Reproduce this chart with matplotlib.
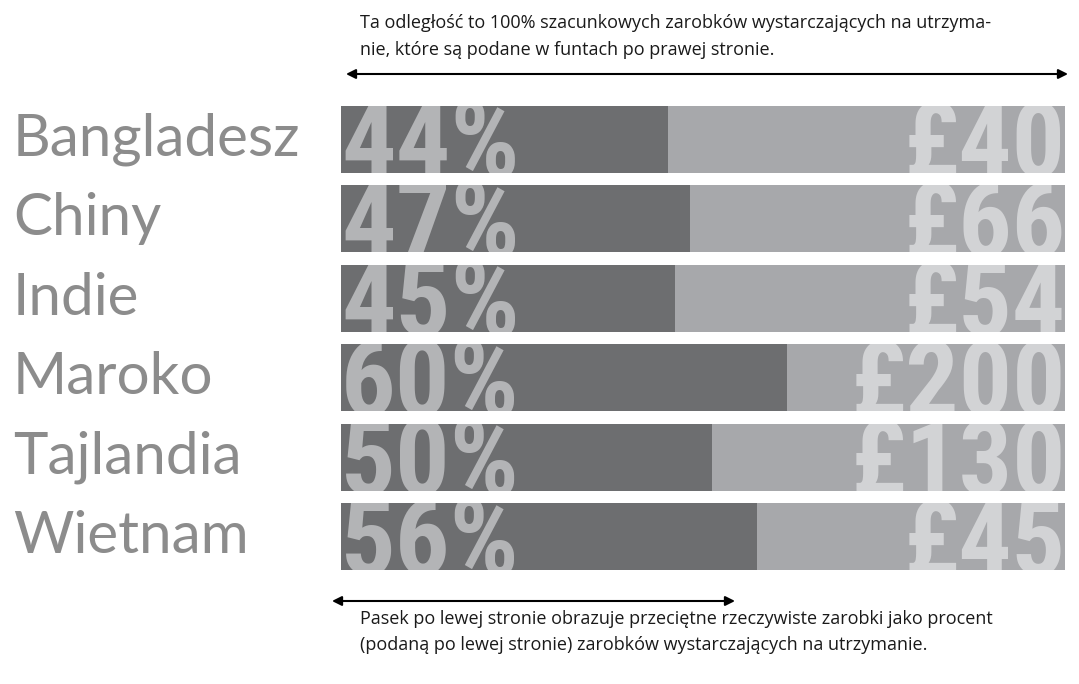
import matplotlib
matplotlib.use("Agg")
import matplotlib.pyplot as plt
from matplotlib import font_manager
from matplotlib.patches import Rectangle, FancyArrowPatch
from matplotlib.transforms import blended_transform_factory

countries = ["Bangladesz", "Chiny", "Indie", "Maroko", "Tajlandia", "Wietnam"]
pct_of_living_wage = [44, 47, 45, 60, 50, 56]
living_wage_gbp = [40, 66, 54, 200, 130, 45]

top_note = ("Ta odległość to 100% szacunkowych zarobków wystarczających na utrzyma-\n"
            "nie, które są podane w funtach po prawej stronie.")
bottom_note = ("Pasek po lewej stronie obrazuje przeciętne rzeczywiste zarobki jako procent\n"
               "(podaną po lewej stronie) zarobków wystarczających na utrzymanie.")

DARK = "#6d6e70"
LIGHT = "#a7a8ab"
PCT_TXT = "#b3b4b6"
GBP_TXT = "#d2d3d5"
LABEL = "#8c8c8c"
XMAX = 97.5


def _pick(families):
    for f in families:
        try:
            font_manager.findfont(font_manager.FontProperties(family=f), fallback_to_default=False)
            return f
        except Exception:
            pass
    return "DejaVu Sans"


narrow = _pick(["Liberation Sans Narrow", "Roboto Condensed", "Liberation Sans"])
label_font = _pick(["Lato", "Open Sans", "DejaVu Sans"])
note_font = _pick(["Open Sans", "Lato", "DejaVu Sans"])

W, H = 1079, 684
fig = plt.figure(figsize=(W / 100, H / 100), dpi=100)
ax = fig.add_axes([341 / W, 1 - 570 / H, (1065 - 341) / W, (570 - 106) / H])

ys = list(range(len(countries)))
bh = 0.8375
ax.barh(ys, pct_of_living_wage, height=bh, color=DARK, linewidth=0)
ax.barh(ys, [XMAX - v for v in pct_of_living_wage], left=pct_of_living_wage,
        height=bh, color=LIGHT, linewidth=0)
ax.set_xlim(0, XMAX)
ax.set_ylim(len(countries) - 1 + bh / 2, -bh / 2)
ax.axis("off")

# big numbers are clipped to their own bar, like in the print original
tr = blended_transform_factory(fig.transFigure, ax.transData)
for y, name, p, g in zip(ys, countries, pct_of_living_wage, living_wage_gbp):
    clip = Rectangle((0, y - bh / 2), XMAX, bh, transform=ax.transData)
    base = y + bh / 2 + 0.06
    t1 = ax.text(0, base, f"{p}%", color=PCT_TXT, fontsize=78, family=narrow,
                 weight="bold", ha="left", va="baseline", clip_on=True)
    t1.set_clip_path(clip)
    t2 = ax.text(XMAX + 0.1, base, f"£{g}", color=GBP_TXT, fontsize=76, family=narrow,
                 weight="bold", ha="right", va="baseline", clip_on=True)
    t2.set_clip_path(clip)
    fig.text(13 / W, y, name, color=LABEL, fontsize=42, family=label_font,
             ha="left", va="center", transform=tr)

fig.text(360 / W, 1 - 14 / H, top_note, fontsize=13, family=note_font, color="#1a1a1a",
         ha="left", va="top", linespacing=1.65)
fig.text(360 / W, 1 - 610 / H, bottom_note, fontsize=13, family=note_font, color="#1a1a1a",
         ha="left", va="top", linespacing=1.6)

arrow = dict(arrowstyle="<|-|>", color="black", lw=1.5, mutation_scale=14, shrinkA=0, shrinkB=0)
fig.add_artist(FancyArrowPatch((346 / W, 1 - 74 / H), (1068 / W, 1 - 74 / H),
                               transform=fig.transFigure, **arrow))
fig.add_artist(FancyArrowPatch((332 / W, 1 - 601 / H), (735 / W, 1 - 601 / H),
                               transform=fig.transFigure, **arrow))

fig.savefig("out.png", dpi=100, facecolor="white")
